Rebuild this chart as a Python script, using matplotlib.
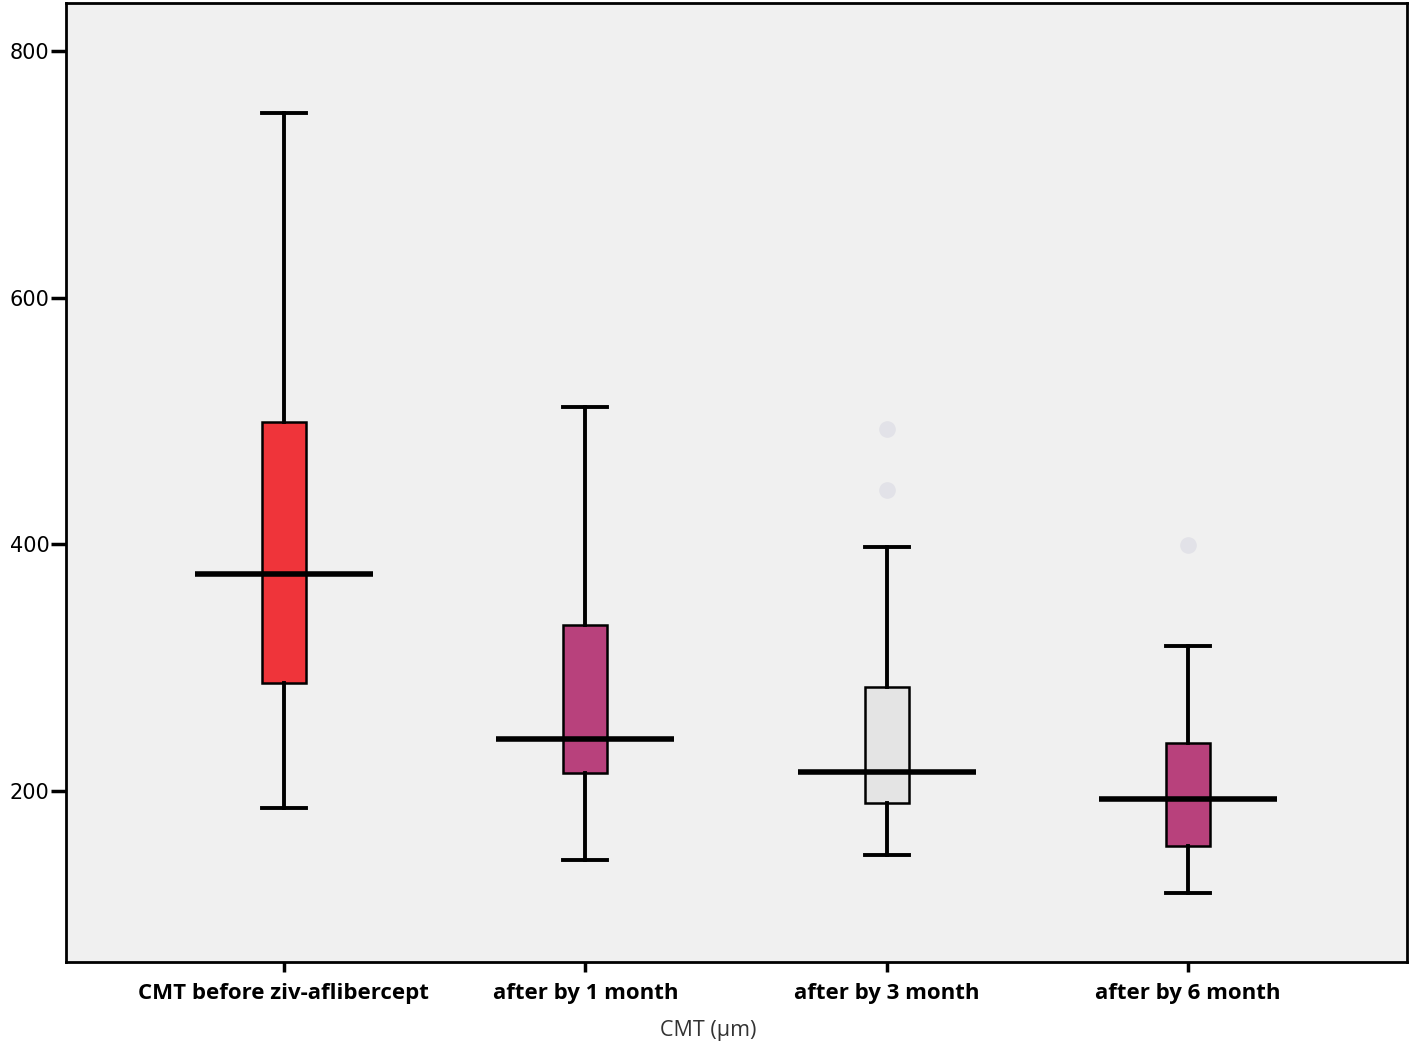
import matplotlib
matplotlib.use("Agg")
import matplotlib.pyplot as plt

# CMT values
categorias = ["CMT before ziv-aflibercept", "after by 1 month", "after by 3 month", "after by 6 month"]
bigote_inf = [186, 144, 148, 117]
q1 = [287, 214, 190, 155]
mediana = [376, 242, 215, 193]
q3 = [499, 334, 284, 239]
bigote_sup = [750, 511, 398, 317]
atipicos = [[], [], [493, 444], [399]]
colores = ["#EF343A", "#B8417C", "#E4E4E4", "#B8417C"]

plt.rcParams["font.family"] = ["Open Sans", "DejaVu Sans"]

fig = plt.figure(figsize=(14.16, 10.43), dpi=100)
ax = fig.add_axes([66 / 1416, 1 - 962 / 1043, (1407 - 66) / 1416, (962 - 3) / 1043])
ax.set_facecolor("#F0F0F0")

stats = []
for i in range(len(categorias)):
    stats.append({"whislo": bigote_inf[i], "q1": q1[i], "med": mediana[i], "q3": q3[i],
                  "whishi": bigote_sup[i], "fliers": atipicos[i]})

pos = list(range(1, len(categorias) + 1))
bp = ax.bxp(stats, positions=pos, widths=0.146, patch_artist=True, showfliers=True,
            boxprops=dict(edgecolor="black", linewidth=1.8),
            whiskerprops=dict(color="black", linewidth=2.8),
            capprops=dict(color="black", linewidth=2.8),
            medianprops=dict(linewidth=0),
            flierprops=dict(marker="o", markersize=12, markerfacecolor="#E2E2E8",
                            markeredgecolor="none"),
            capwidths=0.146)
for caja, c in zip(bp["boxes"], colores):
    caja.set_facecolor(c)

# medianas mas anchas que la caja (estilo SPSS)
ax.hlines(mediana, [p - 0.295 for p in pos], [p + 0.295 for p in pos],
          colors="black", linewidth=4, zorder=5)

ax.set_xlim(0.277, 4.726)
ax.set_ylim(61, 839)
ax.set_yticks([200, 400, 600, 800])
ax.set_yticklabels(["200", "400", "600", "800"], family="DejaVu Sans")
ax.set_xticks(pos)
ax.set_xticklabels(categorias, fontweight="bold", fontsize=16)
ax.tick_params(axis="y", labelsize=15, length=11, width=2.5, pad=1)
ax.tick_params(axis="x", length=7, width=2.5, pad=8)
ax.set_xlabel("CMT (µm)", fontsize=15.5, color="#333333")
ax.xaxis.set_label_coords(0.479, -0.06)
for s in ax.spines.values():
    s.set_linewidth(2)

fig.savefig("out.png", dpi=100)
